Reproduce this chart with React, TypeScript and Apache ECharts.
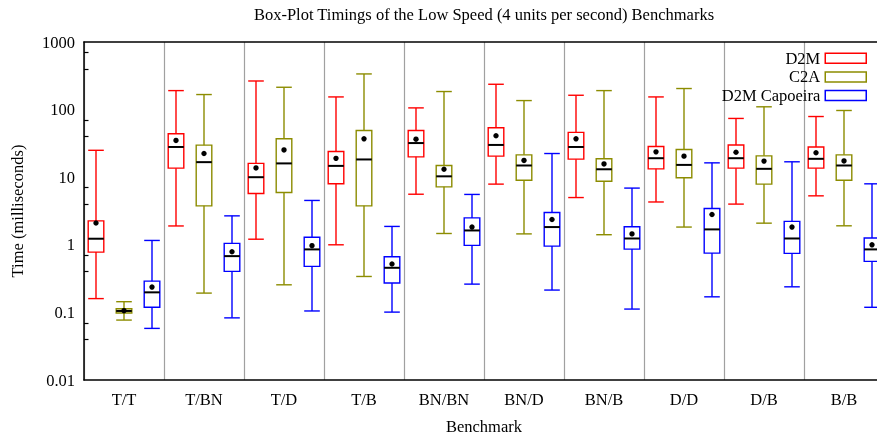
import React, { useEffect, useRef } from "react";
import * as echarts from "echarts";

const categories = ["T/T", "T/BN", "T/D", "T/B", "BN/BN", "BN/D", "BN/B", "D/D", "D/B", "B/B"];
const seriesNames = ["D2M", "C2A", "D2M Capoeira"];
const seriesColors = ["#ff0000", "#8c8c00", "#0000ff"];

// [min, Q1, median, Q3, max]
const d2mStats = [
  [0.16, 0.78, 1.23, 2.26, 25],
  [1.9, 13.6, 28, 44, 191],
  [1.21, 5.75, 10, 16, 265],
  [1.0, 8.0, 14.7, 24, 154],
  [5.6, 20, 32, 49, 106],
  [7.9, 20.5, 30, 54, 237],
  [5.0, 18.5, 28, 46, 163],
  [4.3, 13.3, 19.1, 28.5, 154],
  [4.0, 13.6, 19.1, 30, 74],
  [5.3, 13.6, 18.7, 28, 79],
];
const d2mMean = [2.1, 35, 13.7, 19, 36.5, 41, 37, 23.7, 23.4, 23];

const c2aStats = [
  [0.077, 0.098, 0.105, 0.113, 0.144],
  [0.193, 3.77, 16.7, 29.8, 167],
  [0.256, 5.95, 16, 37, 214],
  [0.34, 3.77, 18.3, 49, 337],
  [1.47, 7.2, 10.3, 14.9, 185],
  [1.45, 9.0, 14.9, 21.4, 136],
  [1.41, 8.7, 13.1, 18.7, 191],
  [1.83, 9.8, 15.2, 25.7, 205],
  [2.09, 7.9, 13.3, 20.7, 110],
  [1.91, 9.0, 14.9, 21.4, 97],
];
const c2aMean = [0.106, 22.4, 25.3, 37, 13.1, 17.7, 15.7, 20.5, 17.3, 17.4];

const capoeiraStats = [
  [0.058, 0.119, 0.198, 0.29, 1.16],
  [0.083, 0.404, 0.68, 1.05, 2.68],
  [0.105, 0.48, 0.855, 1.29, 4.53],
  [0.101, 0.272, 0.457, 0.665, 1.87],
  [0.262, 0.98, 1.63, 2.5, 5.56],
  [0.214, 0.957, 1.83, 3.0, 22.4],
  [0.112, 0.864, 1.24, 1.85, 6.9],
  [0.17, 0.754, 1.69, 3.45, 16.3],
  [0.239, 0.746, 1.24, 2.22, 16.9],
  [0.119, 0.569, 0.855, 1.26, 7.98],
];
const capoeiraMean = [0.237, 0.79, 0.97, 0.52, 1.83, 2.37, 1.45, 2.81, 1.83, 1.0];

const FONT = '"Liberation Serif", "Times New Roman", serif';
const FS = 16.5;

const allStats = [d2mStats, c2aStats, capoeiraStats];
const allMeans = [d2mMean, c2aMean, capoeiraMean];
const offsets = [-0.35, 0, 0.35];
const BOX_FRAC = 0.195;

function makeRender(sIdx: number) {
  return (params: any, api: any) => {
    const i = api.value(0);
    const low = api.value(1);
    const q1 = api.value(2);
    const med = api.value(3);
    const q3 = api.value(4);
    const high = api.value(5);
    const mean = api.value(6);
    const a = api.coord([0, 1]);
    const b = api.coord([1, 1]);
    const band = b[0] - a[0];
    const cx = api.coord([i, 1])[0] + offsets[sIdx] * band;
    const half = (BOX_FRAC * band) / 2;
    const yLow = api.coord([i, low])[1];
    const yQ1 = api.coord([i, q1])[1];
    const yMed = api.coord([i, med])[1];
    const yQ3 = api.coord([i, q3])[1];
    const yHigh = api.coord([i, high])[1];
    const yMean = api.coord([i, mean])[1];
    const color = seriesColors[sIdx];
    const ls = { stroke: color, lineWidth: 1.4, fill: null };
    return {
      type: "group",
      children: [
        { type: "line", shape: { x1: cx, y1: yHigh, x2: cx, y2: yQ3 }, style: ls },
        { type: "line", shape: { x1: cx, y1: yQ1, x2: cx, y2: yLow }, style: ls },
        { type: "line", shape: { x1: cx - half, y1: yHigh, x2: cx + half, y2: yHigh }, style: ls },
        { type: "line", shape: { x1: cx - half, y1: yLow, x2: cx + half, y2: yLow }, style: ls },
        {
          type: "rect",
          shape: { x: cx - half, y: yQ3, width: 2 * half, height: yQ1 - yQ3 },
          style: { stroke: color, lineWidth: 1.4, fill: "rgba(0,0,0,0)" },
        },
        {
          type: "line",
          shape: { x1: cx - half, y1: yMed, x2: cx + half, y2: yMed },
          style: { stroke: "#000", lineWidth: 2 },
        },
        { type: "circle", shape: { cx, cy: yMean, r: 2.7 }, style: { fill: "#000" } },
      ],
    };
  };
}

function fmt(v: number) {
  return String(Number(Number(v).toPrecision(1)));
}

export default function App() {
  const ref = useRef<HTMLDivElement>(null);
  useEffect(() => {
    if (!ref.current) return;
    const chart = echarts.init(ref.current, null, { renderer: "svg" });
    const axisLineStyle = { color: "#000", width: 1.5 };
    const tickStyle = { color: "#000", width: 1.2 };
    const yBase = {
      type: "log",
      logBase: 10,
      min: 0.01,
      max: 1000,
      splitNumber: 5,
      splitLine: { show: false },
      minorSplitLine: { show: false },
    };
    const option: any = {
      animation: false,
      textStyle: { fontFamily: FONT },
      graphic: [
        {
          type: "text",
          x: 484,
          y: 14,
          style: {
            text: "Box-Plot Timings of the Low Speed (4 units per second) Benchmarks",
            textAlign: "center",
            textVerticalAlign: "middle",
            fontFamily: FONT,
            fontSize: FS,
            fill: "#000",
          },
        },
      ],
      grid: { left: 84, top: 42, width: 800, height: 338, containLabel: false, outerBoundsMode: "none" },
      legend: {
        orient: "vertical",
        right: 10,
        top: 49,
        align: "right",
        itemWidth: 41,
        itemHeight: 10,
        itemGap: 0,
        padding: 0,
        selectedMode: false,
        textStyle: { fontSize: FS, lineHeight: 18.6, color: "#000", fontFamily: FONT },
        data: seriesNames.map((n, k) => ({
          name: n,
          icon: "rect",
          itemStyle: { color: "rgba(255,255,255,0)", borderColor: seriesColors[k], borderWidth: 1.5 },
        })),
      },
      xAxis: [
        {
          type: "category",
          data: categories,
          position: "bottom",
          axisLine: { onZero: false, lineStyle: axisLineStyle },
          axisTick: { inside: true, alignWithLabel: true, interval: 0, length: 7, lineStyle: tickStyle },
          axisLabel: { interval: 0, margin: 11, fontSize: FS, color: "#000", fontFamily: FONT },
          splitLine: { show: true, interval: 0, lineStyle: { color: "#a0a0a0", width: 1.2 } },
          name: "Benchmark",
          nameLocation: "middle",
          nameGap: 38,
          nameTextStyle: { fontSize: FS, color: "#000", fontFamily: FONT },
        },
        {
          type: "category",
          data: categories,
          position: "top",
          axisLine: { onZero: false, lineStyle: axisLineStyle },
          axisTick: { inside: true, alignWithLabel: true, interval: 0, length: 7, lineStyle: tickStyle },
          axisLabel: { show: false },
          splitLine: { show: false },
        },
      ],
      yAxis: [
        {
          ...yBase,
          position: "left",
          axisLine: { show: true, onZero: false, lineStyle: axisLineStyle },
          axisTick: { inside: true, length: 8, lineStyle: tickStyle },
          minorTick: { show: true, splitNumber: 3, length: 4.5, lineStyle: tickStyle },
          axisLabel: {
            margin: 9,
            fontSize: FS,
            color: "#000",
            fontFamily: FONT,
            formatter: (v: number) => fmt(v),
          },
          name: "Time (milliseconds)",
          nameLocation: "middle",
          nameGap: 58,
          nameTextStyle: { fontSize: FS, color: "#000", fontFamily: FONT },
        },
        {
          ...yBase,
          position: "right",
          axisLine: { show: true, onZero: false, lineStyle: axisLineStyle },
          axisTick: { inside: true, length: 8, lineStyle: tickStyle },
          minorTick: { show: true, splitNumber: 3, length: 4.5, lineStyle: tickStyle },
          axisLabel: { show: false },
        },
      ],
      series: seriesNames.map((name, s) => ({
        name,
        type: "custom",
        xAxisIndex: 0,
        yAxisIndex: 0,
        itemStyle: { color: seriesColors[s] },
        renderItem: makeRender(s),
        encode: { x: 0, y: [1, 2, 3, 4, 5, 6] },
        data: categories.map((_, i) => [i, ...allStats[s][i], allMeans[s][i]]),
        z: 3 + s,
      })),
    };
    chart.setOption(option);
    return () => chart.dispose();
  }, []);
  return <div ref={ref} style={{ position: "fixed", left: 0, top: 0, width: 877, height: 436 }} />;
}
